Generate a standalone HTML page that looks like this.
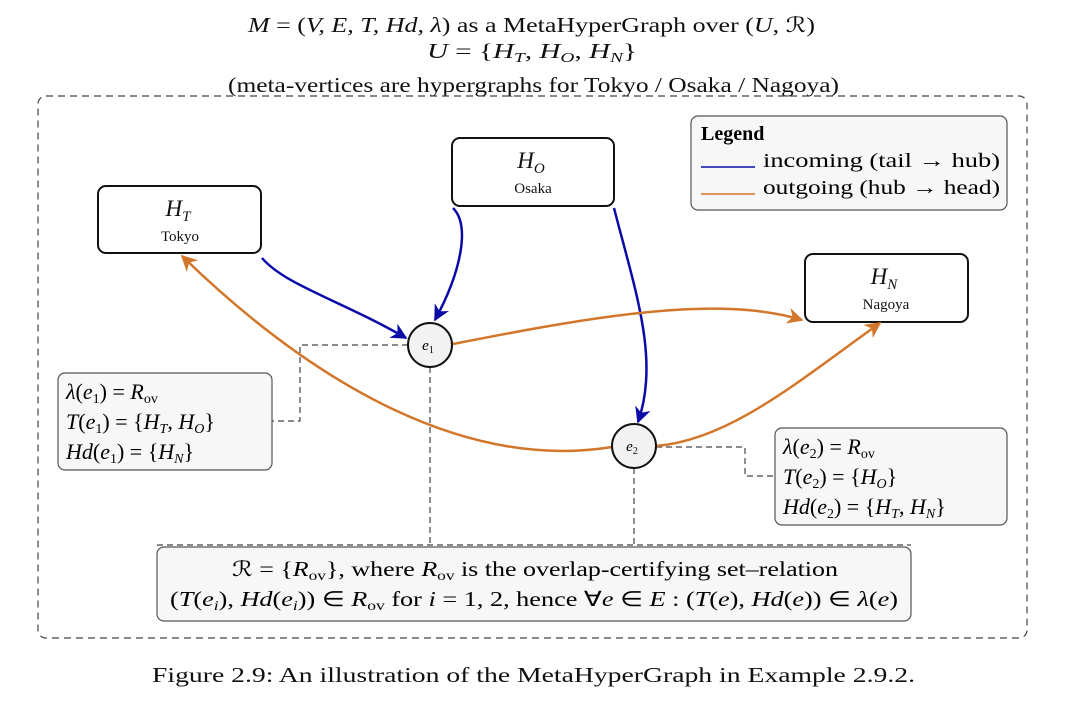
<!DOCTYPE html>
<html><head><meta charset="utf-8"><style>
body{margin:0;background:#fff;}
svg{display:block;font-family:"Liberation Serif",serif;}
.i{font-style:italic;}
</style></head><body>
<svg width="1080" height="721" viewBox="0 0 1080 721" xmlns="http://www.w3.org/2000/svg">
<defs>
<marker id="ab" viewBox="0 0 10 10" refX="9" refY="5" markerWidth="6.5" markerHeight="6.5" orient="auto"><path d="M0,0 L10,5 L0,10 L3,5z" fill="#0a0aa8"/></marker>
<marker id="ao" viewBox="0 0 10 10" refX="9" refY="5" markerWidth="6.5" markerHeight="6.5" orient="auto"><path d="M0,0 L10,5 L0,10 L3,5z" fill="#d2762a"/></marker>
</defs>
<g font-size="21" fill="#111">
<text x="248" y="32" textLength="567" lengthAdjust="spacingAndGlyphs"><tspan class="i">M</tspan> = (<tspan class="i">V, E, T, Hd, λ</tspan>) as a MetaHyperGraph over (<tspan class="i">U</tspan>, ℛ)</text>
<text x="427" y="58" textLength="210" lengthAdjust="spacingAndGlyphs"><tspan class="i">U</tspan> = {<tspan class="i">H</tspan><tspan font-size="14" class="i" dy="4">T</tspan><tspan dy="-4">, </tspan><tspan class="i">H</tspan><tspan font-size="14" class="i" dy="4">O</tspan><tspan dy="-4">, </tspan><tspan class="i">H</tspan><tspan font-size="14" class="i" dy="4">N</tspan><tspan dy="-4">}</tspan></text>
<text x="228" y="92" textLength="611" lengthAdjust="spacingAndGlyphs">(meta-vertices are hypergraphs for Tokyo / Osaka / Nagoya)</text>
<text x="152" y="682" textLength="763" lengthAdjust="spacingAndGlyphs">Figure 2.9: An illustration of the MetaHyperGraph in Example 2.9.2.</text>
</g>
<rect x="38" y="96" width="989" height="542" rx="8" fill="none" stroke="#444" stroke-width="1.2" stroke-dasharray="7,5"/>
<g fill="none" stroke="#444" stroke-width="1.2" stroke-dasharray="6,4">
<path d="M408,345 H300 V421 H272"/>
<path d="M430,367 V545"/>
<path d="M634,468 V545 H911"/>
<path d="M157,545 H634"/>
<path d="M656,447 H745 V476 H775"/>
</g>
<g fill="#fff" stroke="#111" stroke-width="2">
<rect x="98" y="186" width="163" height="67" rx="8"/>
<rect x="452" y="138" width="162" height="68" rx="8"/>
<rect x="805" y="254" width="163" height="68" rx="8"/>
</g>
<g text-anchor="middle" fill="#111">
<text x="178" y="216" font-size="23" class="i">H<tspan font-size="15" dy="5">T</tspan></text>
<text x="180" y="241" font-size="15">Tokyo</text>
<text x="531" y="168" font-size="23" class="i">H<tspan font-size="15" dy="5">O</tspan></text>
<text x="533" y="193" font-size="15">Osaka</text>
<text x="884" y="284" font-size="23" class="i">H<tspan font-size="15" dy="5">N</tspan></text>
<text x="886" y="309" font-size="15">Nagoya</text>
</g>
<g fill="none" stroke-width="2.5">
<path d="M262,258 C285,285 340,300 406,338" stroke="#0a0aa8" marker-end="url(#ab)"/>
<path d="M453,208 C470,225 462,270 435,320" stroke="#0a0aa8" marker-end="url(#ab)"/>
<path d="M614,208 C635,290 660,360 638,422" stroke="#0a0aa8" marker-end="url(#ab)"/>
<path d="M453,344 C600,315 720,295 802,320" stroke="#d2762a" marker-end="url(#ao)"/>
<path d="M656,446 C730,440 800,380 880,323" stroke="#d2762a" marker-end="url(#ao)"/>
<path d="M612,447 C470,470 320,390 182,256" stroke="#d2762a" marker-end="url(#ao)"/>
</g>
<circle cx="430" cy="345" r="22" fill="#f2f2f2" stroke="#111" stroke-width="2"/>
<circle cx="634" cy="446" r="22" fill="#f2f2f2" stroke="#111" stroke-width="2"/>
<text x="428" y="350" font-size="15" text-anchor="middle" class="i">e<tspan font-size="10" dy="3" font-style="normal">1</tspan></text>
<text x="632" y="451" font-size="15" text-anchor="middle" class="i">e<tspan font-size="10" dy="3" font-style="normal">2</tspan></text>
<rect x="691" y="116" width="316" height="94" rx="7" fill="#f7f7f7" stroke="#555" stroke-width="1.2"/>
<text x="701" y="140" font-size="20" font-weight="bold">Legend</text>
<line x1="701" y1="167" x2="755" y2="167" stroke="#0a0aa8" stroke-width="1.6"/>
<line x1="701" y1="194" x2="755" y2="194" stroke="#d2762a" stroke-width="1.6"/>
<text x="763" y="167" font-size="20" textLength="237" lengthAdjust="spacingAndGlyphs">incoming (tail → hub)</text>
<text x="763" y="194" font-size="20" textLength="237" lengthAdjust="spacingAndGlyphs">outgoing (hub → head)</text>
<rect x="58" y="373" width="214" height="97" rx="7" fill="#f7f7f7" stroke="#555" stroke-width="1.2"/>
<g font-size="22">
<text x="66" y="399"><tspan class="i">λ</tspan>(<tspan class="i">e</tspan><tspan font-size="14" dy="4">1</tspan><tspan dy="-4">) = </tspan><tspan class="i">R</tspan><tspan font-size="14" dy="4">ov</tspan></text>
<text x="66" y="429"><tspan class="i">T</tspan>(<tspan class="i">e</tspan><tspan font-size="14" dy="4">1</tspan><tspan dy="-4">) = {</tspan><tspan class="i">H</tspan><tspan font-size="14" class="i" dy="4">T</tspan><tspan dy="-4">, </tspan><tspan class="i">H</tspan><tspan font-size="14" class="i" dy="4">O</tspan><tspan dy="-4">}</tspan></text>
<text x="66" y="459"><tspan class="i">Hd</tspan>(<tspan class="i">e</tspan><tspan font-size="14" dy="4">1</tspan><tspan dy="-4">) = {</tspan><tspan class="i">H</tspan><tspan font-size="14" class="i" dy="4">N</tspan><tspan dy="-4">}</tspan></text>
</g>
<rect x="775" y="428" width="232" height="97" rx="7" fill="#f7f7f7" stroke="#555" stroke-width="1.2"/>
<g font-size="22">
<text x="783" y="454"><tspan class="i">λ</tspan>(<tspan class="i">e</tspan><tspan font-size="14" dy="4">2</tspan><tspan dy="-4">) = </tspan><tspan class="i">R</tspan><tspan font-size="14" dy="4">ov</tspan></text>
<text x="783" y="484"><tspan class="i">T</tspan>(<tspan class="i">e</tspan><tspan font-size="14" dy="4">2</tspan><tspan dy="-4">) = {</tspan><tspan class="i">H</tspan><tspan font-size="14" class="i" dy="4">O</tspan><tspan dy="-4">}</tspan></text>
<text x="783" y="514"><tspan class="i">Hd</tspan>(<tspan class="i">e</tspan><tspan font-size="14" dy="4">2</tspan><tspan dy="-4">) = {</tspan><tspan class="i">H</tspan><tspan font-size="14" class="i" dy="4">T</tspan><tspan dy="-4">, </tspan><tspan class="i">H</tspan><tspan font-size="14" class="i" dy="4">N</tspan><tspan dy="-4">}</tspan></text>
</g>
<rect x="157" y="547" width="754" height="74" rx="7" fill="#f7f7f7" stroke="#555" stroke-width="1.2"/>
<g font-size="21">
<text x="232" y="576" textLength="606" lengthAdjust="spacingAndGlyphs">ℛ = {<tspan class="i">R</tspan><tspan font-size="14" dy="4">ov</tspan><tspan dy="-4">}, where </tspan><tspan class="i">R</tspan><tspan font-size="14" dy="4">ov</tspan><tspan dy="-4"> is the overlap-certifying set–relation</tspan></text>
<text x="170" y="606" textLength="728" lengthAdjust="spacingAndGlyphs">(<tspan class="i">T</tspan>(<tspan class="i">e<tspan font-size="14" dy="4">i</tspan></tspan><tspan dy="-4">), </tspan><tspan class="i">Hd</tspan>(<tspan class="i">e<tspan font-size="14" dy="4">i</tspan></tspan><tspan dy="-4">)) ∈ </tspan><tspan class="i">R</tspan><tspan font-size="14" dy="4">ov</tspan><tspan dy="-4"> for </tspan><tspan class="i">i</tspan> = 1, 2, hence ∀<tspan class="i">e</tspan> ∈ <tspan class="i">E</tspan> :  (<tspan class="i">T</tspan>(<tspan class="i">e</tspan>), <tspan class="i">Hd</tspan>(<tspan class="i">e</tspan>)) ∈ <tspan class="i">λ</tspan>(<tspan class="i">e</tspan>)</text>
</g>
</svg>
</body></html>
